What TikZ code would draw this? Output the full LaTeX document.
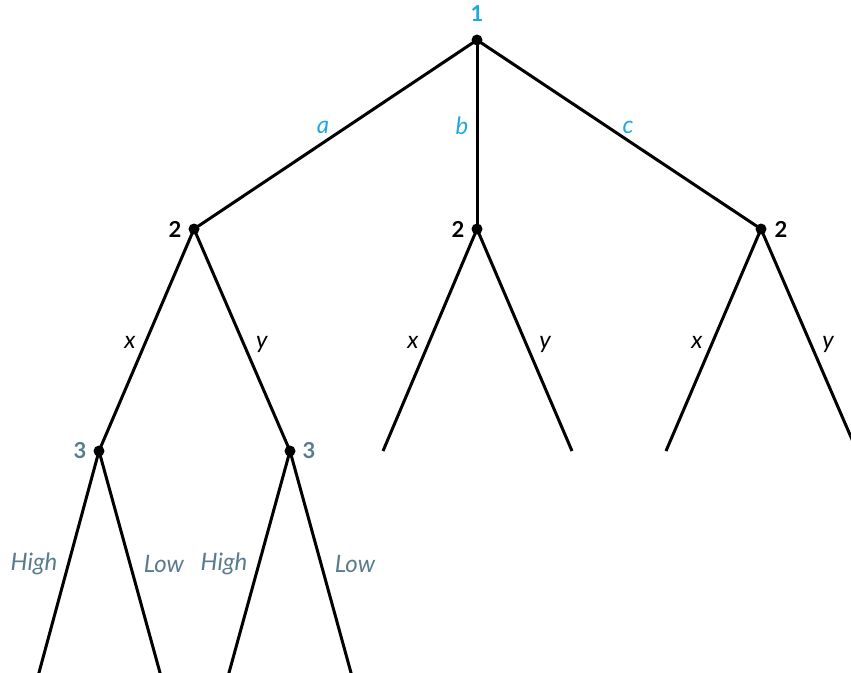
\documentclass[tikz,border=0pt]{standalone}
\usepackage{fontspec}
\setmainfont{Lato}
\definecolor{cblue}{HTML}{1FA8DE}
\definecolor{cgray}{HTML}{587C8C}
\begin{document}
\begin{tikzpicture}[x=1pt,y=-1pt,
  dot/.style={circle,fill=black,inner sep=0pt,minimum size=11pt},
  edge/.style={line width=3pt,black},
  lab/.style={font=\fontsize{24}{24}\selectfont\itshape},
  num/.style={font=\fontsize{22}{22}\selectfont\bfseries}]
\useasboundingbox (0,0) rectangle (851,672);
\clip (0,0) rectangle (851,672);
\node[dot] (r) at (477,40) {};
\node[dot] (a2) at (194,229) {};
\node[dot] (b2) at (477,229) {};
\node[dot] (c2) at (761,229) {};
\node[dot] (a3) at (99,451) {};
\node[dot] (b3) at (290,451) {};
\coordinate (bx) at (383,451);
\coordinate (by) at (572,451);
\coordinate (cx) at (666,451);
\coordinate (cy) at (857,451);
\coordinate (h1) at (37,680);
\coordinate (l1) at (162,680);
\coordinate (h2) at (227,680);
\coordinate (l2) at (353,680);
\draw[edge] (r.center) -- (a2.center);
\draw[edge] (r.center) -- (b2.center);
\draw[edge] (r.center) -- (c2.center);
\draw[edge] (a2.center) -- (a3.center);
\draw[edge] (a2.center) -- (b3.center);
\draw[edge] (b2.center) -- (bx);
\draw[edge] (b2.center) -- (by);
\draw[edge] (c2.center) -- (cx);
\draw[edge] (c2.center) -- (cy);
\draw[edge] (a3.center) -- (h1);
\draw[edge] (a3.center) -- (l1);
\draw[edge] (b3.center) -- (h2);
\draw[edge] (b3.center) -- (l2);
\node[num,text=cblue] (t1) at (477,14) {1};
\node[lab,text=cblue] (ta) at (323,127) {a};
\node[lab,text=cblue] (tb) at (462,126) {b};
\node[lab,text=cblue] (tc) at (628,127) {c};
\node[num] (n2a) at (175,229) {2};
\node[num] (n2b) at (458,229) {2};
\node[num] (n2c) at (781,229) {2};
\node[lab] (x1) at (130,342) {x};
\node[lab] (y1) at (262,344) {y};
\node[lab] (x2) at (413,342) {x};
\node[lab] (y2) at (545,344) {y};
\node[lab] (x3) at (697,342) {x};
\node[lab] (y3) at (828,344) {y};
\node[num,text=cgray] (n3a) at (80,451) {3};
\node[num,text=cgray] (n3b) at (309,451) {3};
\node[lab,text=cgray] (hi1) at (34,564) {High};
\node[lab,text=cgray] (lo1) at (164,564) {Low};
\node[lab,text=cgray] (hi2) at (224,564) {High};
\node[lab,text=cgray] (lo2) at (355,564) {Low};
\end{tikzpicture}
\end{document}
